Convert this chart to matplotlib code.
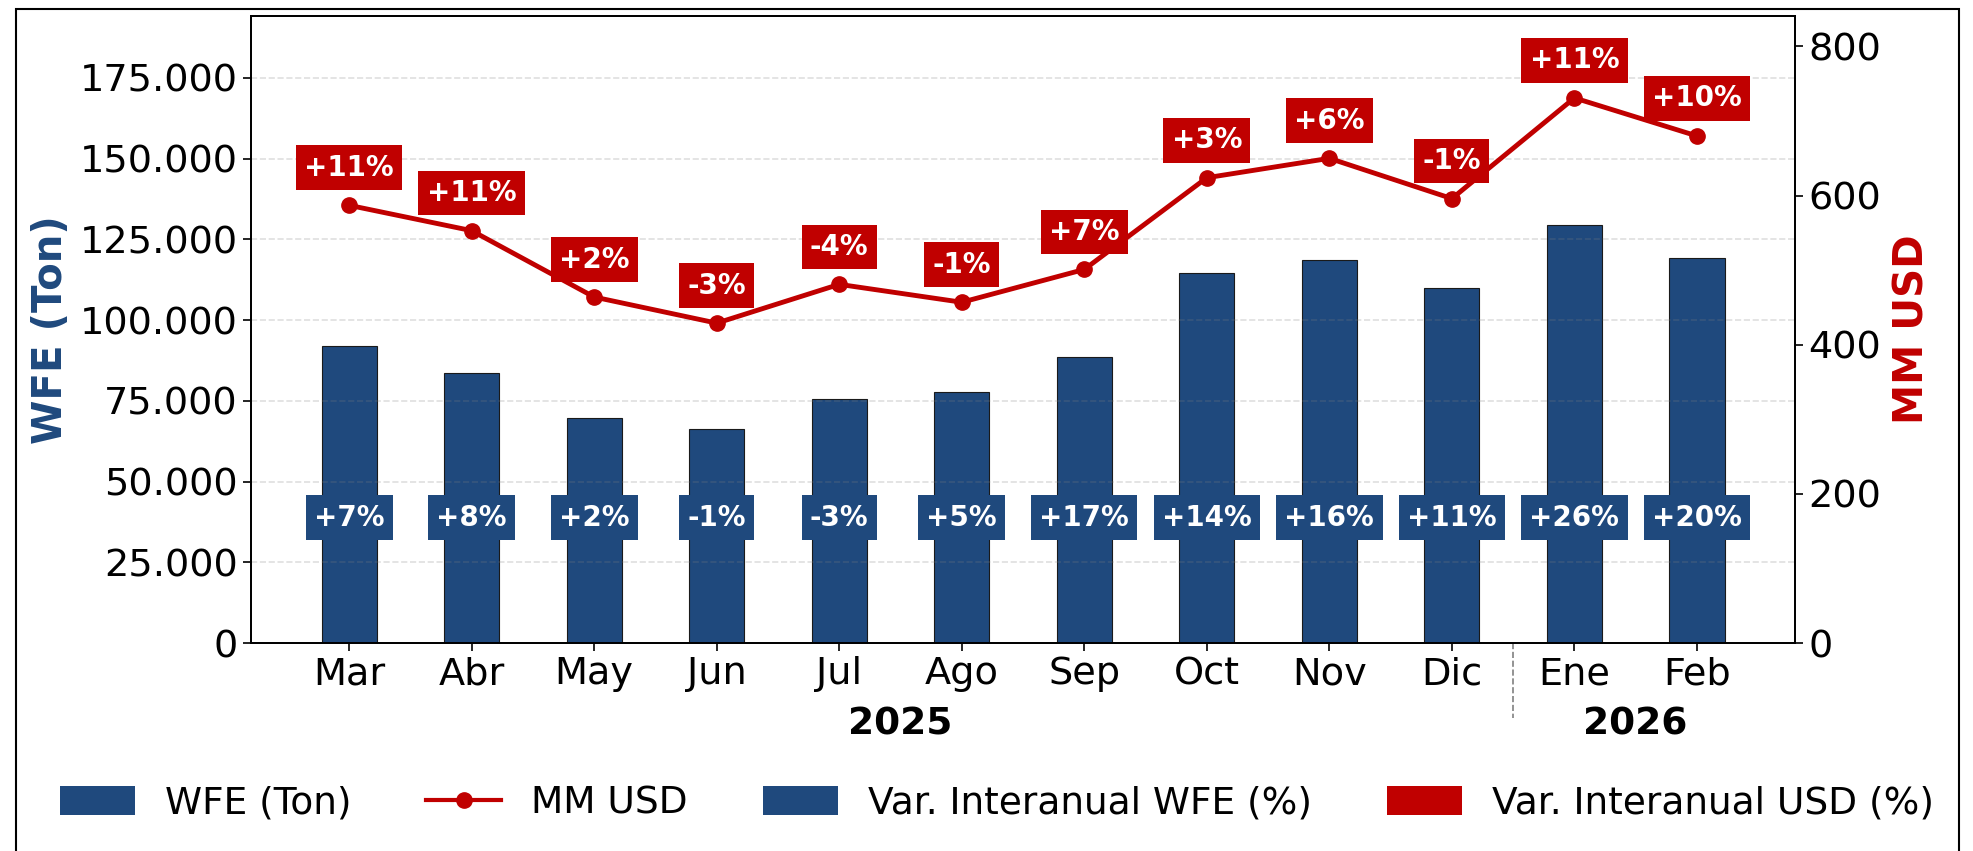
import matplotlib
matplotlib.use("Agg")
import matplotlib.pyplot as plt
from matplotlib.patches import Patch, Rectangle
from matplotlib.lines import Line2D
from matplotlib.ticker import FuncFormatter

BLUE = "#1F497D"
RED = "#C00000"

months = ["Mar", "Abr", "May", "Jun", "Jul", "Ago", "Sep", "Oct", "Nov", "Dic", "Ene", "Feb"]
wfe_ton = [92000, 83500, 69800, 66300, 75700, 77600, 88500, 114600, 118600, 110000, 129400, 119300]
mm_usd = [587, 553, 464, 429, 481, 457, 501, 624, 650, 596, 731, 680]
var_wfe = [7, 8, 2, -1, -3, 5, 17, 14, 16, 11, 26, 20]
var_usd = [11, 11, 2, -3, -4, -1, 7, 3, 6, -1, 11, 10]
years = ["2025", "2026"]
year_split = 10  # first month of 2026

fig = plt.figure(figsize=(19.74, 8.51), dpi=100)
ax = fig.add_axes([0.1272, 0.2444, 0.9093 - 0.1272, 0.981 - 0.2444])
ax2 = ax.twinx()

x = list(range(len(months)))

ax.bar(x, wfe_ton, width=0.45, color=BLUE, edgecolor="#1a1a1a", linewidth=0.8, zorder=1)
ax.set_ylim(0, max(wfe_ton) * 1.5)
ax.set_xlim(-0.8, len(months) - 0.2)
ax.yaxis.set_major_formatter(FuncFormatter(lambda v, p: f"{int(v):,}".replace(",", ".")))
ax.grid(axis="y", linestyle="--", color="gray", alpha=0.25, linewidth=1.2)
ax.set_xticks(x)
ax.set_xticklabels(months)
ax.tick_params(axis="both", labelsize=27.5, length=6, width=1.2)
ax.set_ylabel("WFE (Ton)", fontsize=29, fontweight="bold", color=BLUE, labelpad=6)

ax2.plot(x, mm_usd, color=RED, linewidth=3.5, marker="o", markersize=11, zorder=3)
ax2.set_ylim(0, max(mm_usd) * 1.15)
ax2.tick_params(axis="y", labelsize=27.5, length=6, width=1.2)
ax2.set_ylabel("MM USD", fontsize=29, fontweight="bold", color=RED, labelpad=8)

for a in (ax, ax2):
    for s in a.spines.values():
        s.set_linewidth(1.3)

# variation labels on bars
for i, v in enumerate(var_wfe):
    ax.text(i, max(wfe_ton) * 1.5 * 0.2, f"{v:+d}%", ha="center", va="center",
            fontsize=20, fontweight="bold", color="white", zorder=5,
            bbox=dict(boxstyle="square,pad=0.3", fc=BLUE, ec="none"))

for i, v in enumerate(var_usd):
    ax2.annotate(f"{v:+d}%", (i, mm_usd[i]), xytext=(0, 27), textcoords="offset points",
                 ha="center", va="center", fontsize=20, fontweight="bold", color="white",
                 zorder=6, bbox=dict(boxstyle="square,pad=0.3", fc=RED, ec="none"))

# year separator and labels
ax.plot([year_split - 0.5, year_split - 0.5], [0, -0.12], transform=ax.get_xaxis_transform(),
        color="gray", linestyle="--", linewidth=1.2, clip_on=False)
ax.text((year_split - 1) / 2, -0.13, years[0], transform=ax.get_xaxis_transform(),
        ha="center", va="center", fontsize=27, fontweight="bold")
ax.text((year_split + len(months) - 1) / 2, -0.13, years[1], transform=ax.get_xaxis_transform(),
        ha="center", va="center", fontsize=27, fontweight="bold")

handles = [
    Patch(facecolor=BLUE, label="WFE (Ton)"),
    Line2D([0], [0], color=RED, linewidth=3, marker="o", markersize=11, label="MM USD"),
    Patch(facecolor=BLUE, label="Var. Interanual WFE (%)"),
    Patch(facecolor=RED, label="Var. Interanual USD (%)"),
]
fig.legend(handles=handles, loc="center", bbox_to_anchor=(0.505, 0.056), ncol=4,
           frameon=False, fontsize=27, handlelength=2.0, handleheight=0.8)

fig.patches.append(Rectangle((0.0083, -0.01), 0.984, 0.9995, transform=fig.transFigure,
                             fill=False, edgecolor="black", linewidth=1.5))

fig.savefig("out.png", dpi=100)
